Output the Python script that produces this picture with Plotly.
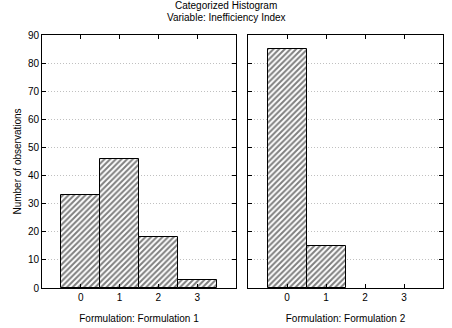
import plotly.graph_objects as go
from plotly.subplots import make_subplots

categories = [0, 1, 2, 3]
formulation1 = [33, 46, 18, 3]
formulation2 = [85, 15, 0, 0]
y_ticks = [0, 10, 20, 30, 40, 50, 60, 70, 80, 90]
panel_titles = ["Formulation: Formulation 1", "Formulation: Formulation 2"]

W, H = 452, 328
fig = make_subplots(rows=1, cols=2)

font = dict(family="Liberation Sans, Arial, sans-serif", size=10, color="black")

for i, vals in enumerate([formulation1, formulation2]):
    fig.add_trace(go.Bar(
        x=categories, y=vals, width=1,
        marker=dict(color="white",
                    line=dict(color="black", width=[1 if v > 0 else 0 for v in vals]),
                    pattern=dict(shape="/", fgcolor="black", bgcolor="white", size=4, solidity=0.5)),
        showlegend=False, hoverinfo="x+y"), row=1, col=i + 1)

xdoms = [(42 / W, 236 / W), (248 / W, 443 / W)]
ydom = ((H - 288) / H, (H - 35) / H)

for i in range(2):
    xa = "xaxis" if i == 0 else "xaxis2"
    ya = "yaxis" if i == 0 else "yaxis2"
    fig.layout[xa].update(
        domain=list(xdoms[i]), range=[-1, 4], tickvals=categories,
        ticktext=[str(c) for c in categories],
        showline=True, linecolor="black", linewidth=1, mirror="ticks",
        ticks="inside", ticklen=4, tickcolor="black",
        showgrid=False, zeroline=False, tickfont=font, automargin=False,
        title=dict(text=panel_titles[i], font=font, standoff=12),
    )
    fig.layout[ya].update(
        domain=list(ydom), range=[0, 90], tickvals=y_ticks,
        showline=True, linecolor="black", linewidth=1, mirror="ticks",
        ticks="inside", ticklen=4, tickcolor="black",
        showgrid=True, gridcolor="#c0c0c0", griddash="1px,2px", gridwidth=1,
        zeroline=False, tickfont=font, automargin=False,
        showticklabels=(i == 0),
    )

fig.layout.yaxis.title = dict(text="Number of observations", font=font, standoff=4)

fig.update_layout(
    width=W, height=H,
    margin=dict(l=0, r=0, t=0, b=0, autoexpand=False),
    paper_bgcolor="white", plot_bgcolor="white",
    bargap=0,
    font=font,
    annotations=[
        dict(text="Categorized Histogram", x=0.5, y=1 - 5 / H, xref="paper", yref="paper",
             showarrow=False, font=font, yanchor="middle"),
        dict(text="Variable: Inefficiency Index", x=0.5, y=1 - 17 / H, xref="paper", yref="paper",
             showarrow=False, font=font, yanchor="middle"),
    ],
)

fig.write_html("out.html", config={"displayModeBar": False},
               post_script="document.body.style.margin='0';document.body.style.overflow='hidden';")
